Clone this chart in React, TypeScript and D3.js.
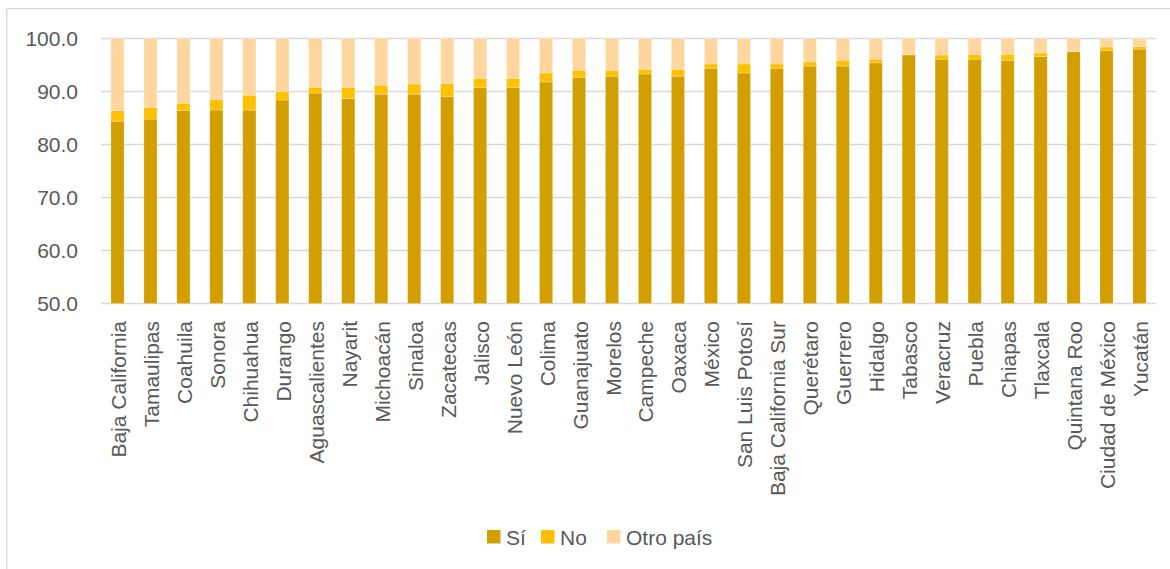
import React from "react";
import * as d3 from "d3";

const categories = [
  "Baja California", "Tamaulipas", "Coahuila", "Sonora", "Chihuahua", "Durango",
  "Aguascalientes", "Nayarit", "Michoacán", "Sinaloa", "Zacatecas", "Jalisco",
  "Nuevo León", "Colima", "Guanajuato", "Morelos", "Campeche", "Oaxaca", "México",
  "San Luis Potosí", "Baja California Sur", "Querétaro", "Guerrero", "Hidalgo",
  "Tabasco", "Veracruz", "Puebla", "Chiapas", "Tlaxcala", "Quintana Roo",
  "Ciudad de México", "Yucatán",
];

const si = [84.4, 84.8, 86.4, 86.5, 86.5, 88.4, 89.7, 88.7, 89.5, 89.5, 89.1, 90.8,
  90.8, 91.8, 92.7, 92.9, 93.3, 92.9, 94.4, 93.5, 94.4, 94.8, 94.8, 95.4,
  96.9, 96.1, 96.1, 95.9, 96.6, 97.5, 97.7, 98.0];
const no = [2.0, 2.2, 1.4, 2.0, 2.8, 1.6, 1.1, 2.1, 1.7, 1.9, 2.4, 1.7,
  1.7, 1.7, 1.3, 1.1, 0.9, 1.3, 0.8, 1.7, 0.8, 0.8, 1.1, 0.7,
  0.1, 0.8, 0.9, 1.1, 0.7, 0.1, 0.7, 0.5];
const otro = [13.6, 13.0, 12.2, 11.5, 10.7, 10.0, 9.2, 9.2, 8.8, 8.6, 8.5, 7.5,
  7.5, 6.5, 6.0, 6.0, 5.8, 5.8, 4.8, 4.8, 4.8, 4.4, 4.1, 3.9,
  3.0, 3.1, 3.0, 3.0, 2.7, 2.4, 1.6, 1.5];

const seriesNames = ["Sí", "No", "Otro país"];
const seriesColors = ["#D39E00", "#FFC000", "#FFD79E"];
const yTicks = [50, 60, 70, 80, 90, 100];

const W = 1170;
const H = 569;
const FONT = "'Liberation Sans', Arial, sans-serif";
const TEXT = "#595959";

export default function App() {
  const x = d3.scaleBand<string>().domain(categories).range([101, 1156]).paddingInner(0.6).paddingOuter(0.3);
  const y = d3.scaleLinear().domain([50, 100]).range([303.5, 38.5]);

  const rows = categories.map((c, i) => ({ cat: c, si: si[i], no: no[i], otro: otro[i] }));
  const stack = d3.stack<any>().keys(["si", "no", "otro"]);
  const stacked = stack(rows);

  const legendItems = [
    { x: 487, label: seriesNames[0], color: seriesColors[0] },
    { x: 541, label: seriesNames[1], color: seriesColors[1] },
    { x: 607, label: seriesNames[2], color: seriesColors[2] },
  ];

  return (
    <svg width={W} height={H} style={{ position: "absolute", left: 0, top: 0, background: "#fff" }}>
      <rect x={6.8} y={8.6} width={1300} height={700} fill="#fff" stroke="#d9d9d9" strokeWidth={1.3} />
      {yTicks.map((t) => (
        <g key={t}>
          <line x1={101} x2={1156} y1={y(t)} y2={y(t)} stroke="#d9d9d9" strokeWidth={1.3} />
          <text x={78} y={y(t)} textAnchor="end" dominantBaseline="central" fontFamily={FONT} fontSize={21} fill={TEXT}>
            {t.toFixed(1)}
          </text>
        </g>
      ))}
      {stacked.map((s, si2) => (
        <g key={s.key} fill={seriesColors[si2]}>
          {s.map((d, i) => {
            const y0 = Math.max(d[0], 50);
            const y1 = d[1];
            return (
              <rect
                key={i}
                x={x(categories[i])}
                width={x.bandwidth()}
                y={y(y1)}
                height={Math.max(0, y(y0) - y(y1))}
                stroke="#fff"
                strokeOpacity={0.35}
                strokeWidth={0.7}
              />
            );
          })}
        </g>
      ))}
      {categories.map((c) => (
        <text
          key={c}
          transform={`translate(${(x(c) as number) + x.bandwidth() / 2 + 1},321) rotate(-90)`}
          textAnchor="end"
          dominantBaseline="central"
          fontFamily={FONT}
          fontSize={21}
          fill={TEXT}
        >
          {c}
        </text>
      ))}
      {legendItems.map((l) => (
        <g key={l.label}>
          <rect x={l.x} y={530} width={13.5} height={13.5} fill={l.color} />
          <text x={l.x + 19} y={537} dominantBaseline="central" fontFamily={FONT} fontSize={21} fill={TEXT}>
            {l.label}
          </text>
        </g>
      ))}
    </svg>
  );
}
